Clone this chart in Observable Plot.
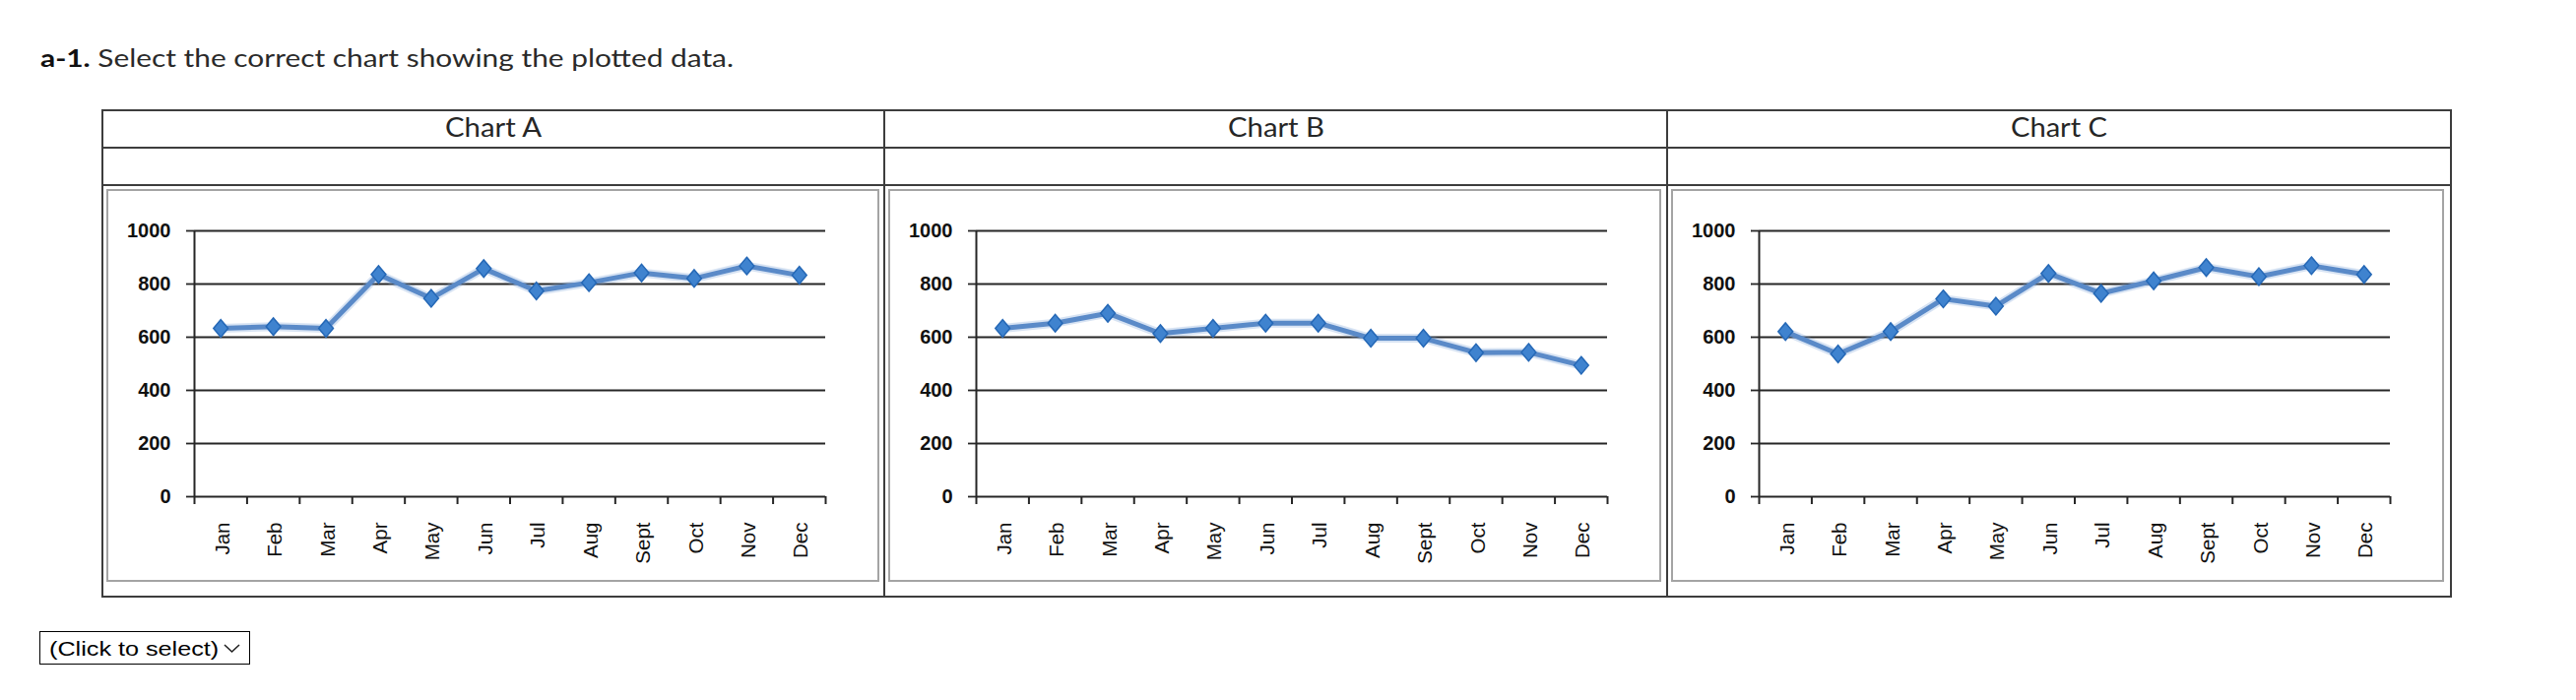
<!DOCTYPE html>
<html>
<head>
<meta charset="utf-8">
<script src="https://cdn.jsdelivr.net/npm/d3@7"></script>
<script src="https://cdn.jsdelivr.net/npm/@observablehq/plot@0.6"></script>
<style>
  html, body { margin:0; padding:0; background:#fff; }
  body { position:relative; width:2616px; height:711px; overflow:hidden; }
  .txt { position:absolute; left:0; top:0; white-space:nowrap; transform-origin:0 0; line-height:1.3; }
  .line { position:absolute; background:#3d3d3d; }
  .box { position:absolute; border:2px solid #a4a4a4; box-sizing:border-box; }
  .chart { position:absolute; }
  #dd { position:absolute; left:40px; top:641px; width:214px; height:34px; border:1px solid #000; box-sizing:border-box; background:#fff; }
  #ddclip { position:absolute; left:41px; top:642px; width:180px; height:32px; overflow:hidden; }
</style>
</head>
<body>
<script>
// ---- data ----
const months = ["Jan","Feb","Mar","Apr","May","Jun","Jul","Aug","Sept","Oct","Nov","Dec"];
const chartNames = ["Chart A","Chart B","Chart C"];
const chartAValues = [633,640,633,836,746,858,774,805,842,821,868,833];
const chartBValues = [633,653,690,614,633,653,653,596,596,542,543,494];
const chartCValues = [621,537,621,744,717,840,765,812,862,828,869,836];
const yTicks = [0,200,400,600,800,1000];
const titleBold = "a-1.";
const titleRest = " Select the correct chart showing the plotted data.";
const selectLabel = "(Click to select)";

// ---- layout helpers ----
function placeText(parts, o) {
  const el = document.createElement("div");
  el.className = "txt";
  el.style.fontFamily = o.family;
  el.style.fontSize = o.size + "px";
  el.style.fontWeight = o.weight || 400;
  el.style.color = o.color || "#222";
  for (const p of parts) {
    const s = document.createElement("span");
    s.textContent = p.text;
    if (p.weight) s.style.fontWeight = p.weight;
    if (p.color) s.style.color = p.color;
    el.appendChild(s);
  }
  const bl = document.createElement("span");
  bl.style.cssText = "display:inline-block;width:0;height:0;vertical-align:baseline";
  el.appendChild(bl);
  (o.parent || document.body).appendChild(el);
  const w = el.getBoundingClientRect().width;
  const base = bl.offsetTop;
  const sx = o.width ? o.width / w : (o.scale || 1);
  const realW = w * sx;
  const left = o.anchor === "middle" ? o.x - realW / 2 : o.x;
  el.style.left = left + "px";
  el.style.top = (o.baseline - base) + "px";
  el.style.transform = `scaleX(${sx})`;
  return el;
}
function line(x, y, w, h) {
  const d = document.createElement("div");
  d.className = "line";
  Object.assign(d.style, {left: x + "px", top: y + "px", width: w + "px", height: h + "px"});
  document.body.appendChild(d);
}

// title
placeText([{text: titleBold, weight: 700, color: "#111"}, {text: titleRest}],
  {family: "Lato, 'Open Sans', sans-serif", size: 25, x: 41, baseline: 68, width: 704, color: "#2a2a2a"});

// table
const colEdges = [103.5, 898, 1693, 2488.5];
const tTop = 111.7, row1 = 150, row2 = 188, tBottom = 605.7;
[tTop, row1, row2, tBottom].forEach(y => line(colEdges[0] - 1, y - 1, colEdges[3] - colEdges[0] + 2, 2));
colEdges.forEach(x => line(x - 1, tTop - 1, 2, tBottom - tTop + 2));

// charts
const diamond = {
  draw(context, size) {
    const r = Math.sqrt(size / Math.PI);
    const w = r * 0.84;
    context.moveTo(0, -r);
    context.lineTo(w, 0);
    context.lineTo(0, r);
    context.lineTo(-w, 0);
    context.closePath();
  }
};

function makeChart(values) {
  const data = values.map((v, i) => ({month: months[i], index: i, value: v}));
  const gx = d => d.index + 0.5;
  return Plot.plot({
    width: 784, height: 399,
    marginLeft: 89, marginRight: 54, marginTop: 42, marginBottom: 87,
    x: {type: "linear", domain: [0, months.length], label: null},
    y: {type: "linear", domain: [0, 1000], label: null},
    style: {background: "transparent", overflow: "visible", fontFamily: "'Liberation Sans', Arial, sans-serif", color: "#1a1a1a"},
    marks: [
      Plot.ruleY(yTicks, {stroke: "#262626", strokeWidth: 1.8}),
      Plot.ruleX([0], {stroke: "#262626", strokeWidth: 2}),
      Plot.axisY({ticks: yTicks, tickSize: 8, tickPadding: 16, label: null, tickFormat: d => String(d),
        fontSize: 20, fontWeight: "bold", fontFamily: "'Liberation Sans', Arial, sans-serif", stroke: "#262626", strokeWidth: 1.8, fill: "#111",
        style: "letter-spacing:1px"}),
      Plot.axisX({ticks: d3.range(months.length + 1), tickSize: 8, label: null, tickFormat: () => "",
        stroke: "#262626", strokeWidth: 2}),
      Plot.axisX({ticks: months.map((m, i) => i + 0.5), tickSize: 0, tickPadding: 26, tickRotate: -90, label: null,
        tickFormat: d => months[Math.floor(d)], fontSize: 20.5, fill: "#111", dx: 2}),
      Plot.line(data, {x: gx, y: "value", stroke: "#7aa3d6", strokeWidth: 9, strokeOpacity: 0.3}),
      Plot.line(data, {x: gx, y: "value", stroke: "#5a8ac8", strokeWidth: 5}),
      Plot.dot(data, {x: gx, y: "value", symbol: diamond, r: 10, fill: "#7aa6dc", fillOpacity: 0.35, stroke: "none"}),
      Plot.dot(data, {x: gx, y: "value", symbol: diamond, r: 8.8, fill: "#3f83cf", stroke: "#2568b6", strokeWidth: 1.5})
    ]
  });
}

const series = [chartAValues, chartBValues, chartCValues];
chartNames.forEach((name, k) => {
  const cl = colEdges[k], cr = colEdges[k + 1];
  placeText([{text: name}], {family: "Lato, 'Open Sans', sans-serif", size: 26, weight: 400, x: (cl + cr) / 2,
    baseline: 138.5, width: 98, anchor: "middle", color: "#262626"});
  const bx = cl + 4;
  const box = document.createElement("div");
  box.className = "box";
  Object.assign(box.style, {left: bx + "px", top: "192px", width: "785px", height: "399px"});
  document.body.appendChild(box);
  const svg = makeChart(series[k]);
  svg.classList.add("chart");
  svg.style.left = bx + "px";
  svg.style.top = "192px";
  svg.style.position = "absolute";
  document.body.appendChild(svg);
});

// dropdown
const dd = document.createElement("div");
dd.id = "dd";
document.body.appendChild(dd);
const clip = document.createElement("div");
clip.id = "ddclip";
document.body.appendChild(clip);
placeText([{text: selectLabel}], {family: "'Liberation Sans', Arial, sans-serif", size: 21, x: 9, baseline: 24, scale: 1.2, color: "#000", parent: clip});
const chev = document.createElementNS("http://www.w3.org/2000/svg", "svg");
chev.setAttribute("width", 20); chev.setAttribute("height", 12);
chev.style.cssText = "position:absolute;left:226px;top:652px";
chev.innerHTML = '<polyline points="2,3 9.5,10 17,3" fill="none" stroke="#222" stroke-width="1.6"/>';
document.body.appendChild(chev);
</script>
</body>
</html>
